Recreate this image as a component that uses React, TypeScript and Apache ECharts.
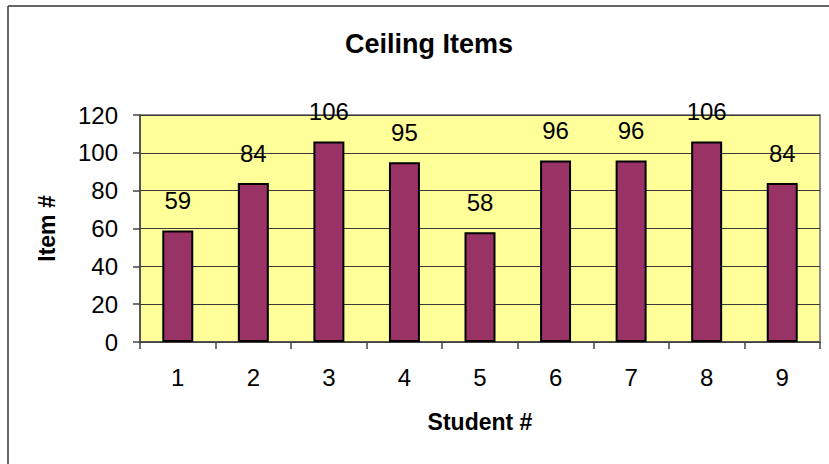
import React, { useEffect, useRef } from "react";
import * as echarts from "echarts";

const students = ["1", "2", "3", "4", "5", "6", "7", "8", "9"];
const ceilingItems = [59, 84, 106, 95, 58, 96, 96, 106, 84];
const yTicks = { min: 0, max: 120, interval: 20 };

const FONT = "Liberation Sans, Arial, sans-serif";

export default function App() {
  const ref = useRef<HTMLDivElement>(null);

  useEffect(() => {
    if (!ref.current) return;
    const chart = echarts.init(ref.current, undefined, { renderer: "svg" });
    chart.setOption({
      animation: false,
      backgroundColor: "#ffffff",
      title: {
        text: "Ceiling Items",
        left: 424,
        top: 25,
        textAlign: "center",
        textStyle: { fontFamily: FONT, fontSize: 27, fontWeight: "bold", color: "#000" },
      },
      grid: {
        left: 140,
        top: 115,
        right: 9,
        bottom: 122,
        show: true,
        backgroundColor: "#FFFF99",
        borderColor: "#8a8a8a",
        borderWidth: 2,
      },
      graphic: [
        { type: "line", shape: { x1: 8, y1: 6, x2: 8, y2: 464 }, style: { stroke: "#333", lineWidth: 1.5 } },
        { type: "line", shape: { x1: 8, y1: 6, x2: 829, y2: 6 }, style: { stroke: "#333", lineWidth: 1.5 } },
      ],
      xAxis: {
        type: "category",
        data: students,
        name: "Student #",
        nameLocation: "middle",
        nameGap: 68,
        nameTextStyle: { fontFamily: FONT, fontSize: 23, fontWeight: "bold", color: "#000" },
        axisLine: { lineStyle: { color: "#444", width: 1.5 } },
        axisTick: { show: true, alignWithLabel: false, length: 7, lineStyle: { color: "#444", width: 1.5 } },
        axisLabel: { margin: 23, fontFamily: FONT, fontSize: 24, color: "#000" },
        splitLine: { show: false },
      },
      yAxis: {
        type: "value",
        min: yTicks.min,
        max: yTicks.max,
        interval: yTicks.interval,
        name: "Item #",
        nameLocation: "middle",
        nameGap: 82,
        nameRotate: 90,
        nameTextStyle: { fontFamily: FONT, fontSize: 23, fontWeight: "bold", color: "#000" },
        axisLine: { show: true, lineStyle: { color: "#444", width: 1.5 } },
        axisTick: { show: true, length: 7, lineStyle: { color: "#444", width: 1.5 } },
        axisLabel: { margin: 22, fontFamily: FONT, fontSize: 24, color: "#000" },
        splitLine: { show: true, lineStyle: { color: "#3a3a3a", width: 1 } },
      },
      series: [
        {
          type: "bar",
          data: ceilingItems,
          barWidth: "41%",
          itemStyle: { color: "#993366", borderColor: "#000", borderWidth: 2 },
          label: {
            show: true,
            position: "top",
            distance: 18,
            fontFamily: FONT,
            fontSize: 24,
            color: "#000",
          },
        },
      ],
    });
    return () => chart.dispose();
  }, []);

  return <div ref={ref} style={{ position: "fixed", left: 0, top: 0, width: 829, height: 464 }} />;
}
